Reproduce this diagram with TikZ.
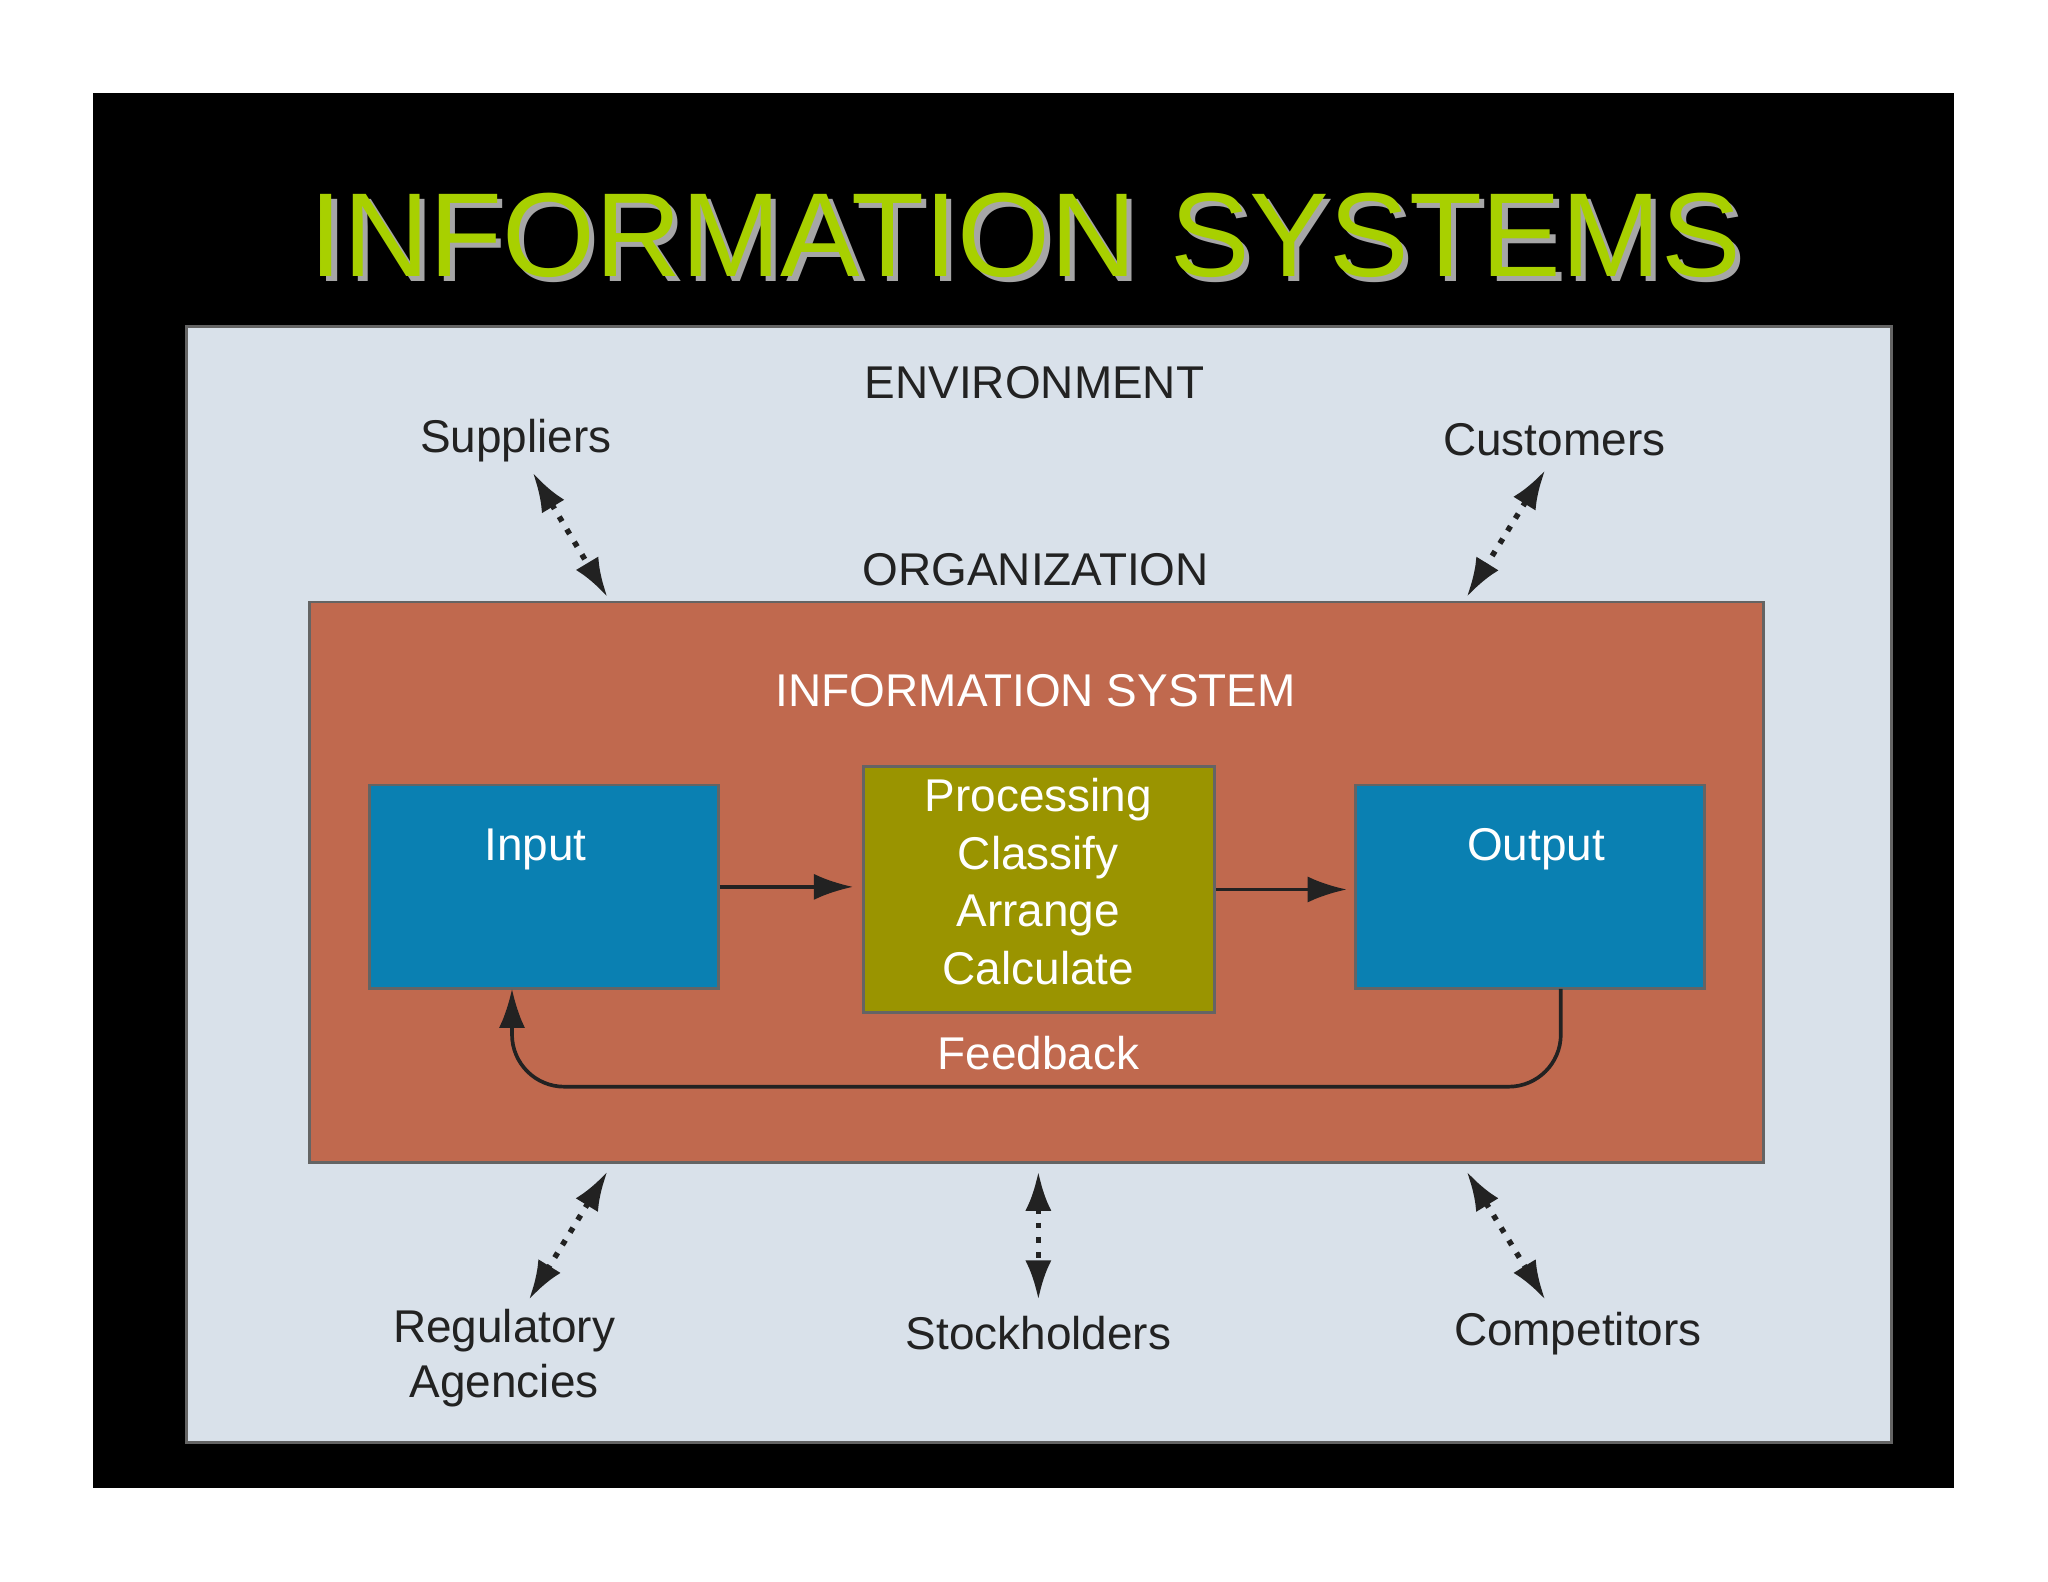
\documentclass[tikz,border=0pt]{standalone}
\usepackage{fontspec}
\setmainfont{Liberation Sans}
\usetikzlibrary{arrows.meta}
\definecolor{panel}{HTML}{D9E1EA}
\definecolor{org}{HTML}{C0694E}
\definecolor{inbox}{HTML}{0A80B2}
\definecolor{proc}{HTML}{9A9400}
\definecolor{ttl}{HTML}{A8D000}
\definecolor{ink}{HTML}{222222}
\begin{document}
\begin{tikzpicture}[x=0.01cm,y=-0.01cm,>={Latex[length=3mm,width=2mm]},
	box/.style={draw=ink!70,line width=0.6pt,inner sep=0pt},
	lbl/.style={text=ink,font=\fontsize{10}{12}\selectfont,align=center},
	wlbl/.style={text=white,font=\fontsize{10}{12.5}\selectfont,align=center},
	link/.style={->,thick,ink},
	env/.style={{Latex[length=3mm,width=2mm]}-{Latex[length=3mm,width=2mm]},very thick,dotted,ink},
]
	\useasboundingbox[fill=white] (0,0) rectangle (1568,1211);
	\fill[black] (71,71) rectangle (1496,1139);
	% title
	\node[text=gray!70,font=\fontsize{26}{30}\selectfont] at (789,184) {INFORMATION SYSTEMS};
	\node[text=ttl,font=\fontsize{26}{30}\selectfont] (title) at (785,180) {INFORMATION SYSTEMS};
	% panels
	\node[box,fill=panel,minimum width=13.05cm,minimum height=8.54cm] (envbox) at (795.5,677) {};
	\node[box,fill=org,minimum width=11.13cm,minimum height=4.29cm] (orgbox) at (793.5,675.5) {};
	\node[box,fill=inbox,minimum width=2.67cm,minimum height=1.56cm] (input) at (416.5,679) {};
	\node[box,fill=proc,minimum width=2.69cm,minimum height=1.88cm] (processing) at (795.5,681) {};
	\node[box,fill=inbox,minimum width=2.67cm,minimum height=1.56cm] (output) at (1171.5,679) {};
	% texts
	\node[lbl] (environment) at (792,293) {ENVIRONMENT};
	\node[lbl] (organization) at (793,436) {ORGANIZATION};
	\node[wlbl] (infosys) at (793,529) {INFORMATION SYSTEM};
	\node[wlbl] at (410,650) {Input};
	\node[wlbl] at (1176,650) {Output};
	\node[wlbl] at (795,675) {Processing\\Classify\\Arrange\\Calculate};
	\node[wlbl] (feedback) at (795,806) {Feedback};
	\node[lbl] (suppliers) at (395,337) {Suppliers};
	\node[lbl] (customers) at (1190,337) {Customers};
	\node[lbl] (regulatory) at (386,1040) {Regulatory\\Agencies};
	\node[lbl] (stockholders) at (795,1021) {Stockholders};
	\node[lbl] (competitors) at (1208,1021) {Competitors};
	% flow
	\draw[link] (input.east) -- ++(102,0);
	\draw[link] (processing.east) -- ++(100,0);
	\coordinate (fbr) at (1195,757);
	\coordinate (fbl) at (392,757);
	\draw[link,rounded corners=4mm] (fbr) |- (fbl |- 0,832) -- (fbl);
	% environment links
	\draw[env] (408,362) -- (465,457);
	\draw[env] (1183,360) -- (1123,457);
	\draw[env] (465,897) -- (405,995);
	\draw[env] (795,897) -- (795,995);
	\draw[env] (1123,897) -- (1183,995);
\end{tikzpicture}
\end{document}
